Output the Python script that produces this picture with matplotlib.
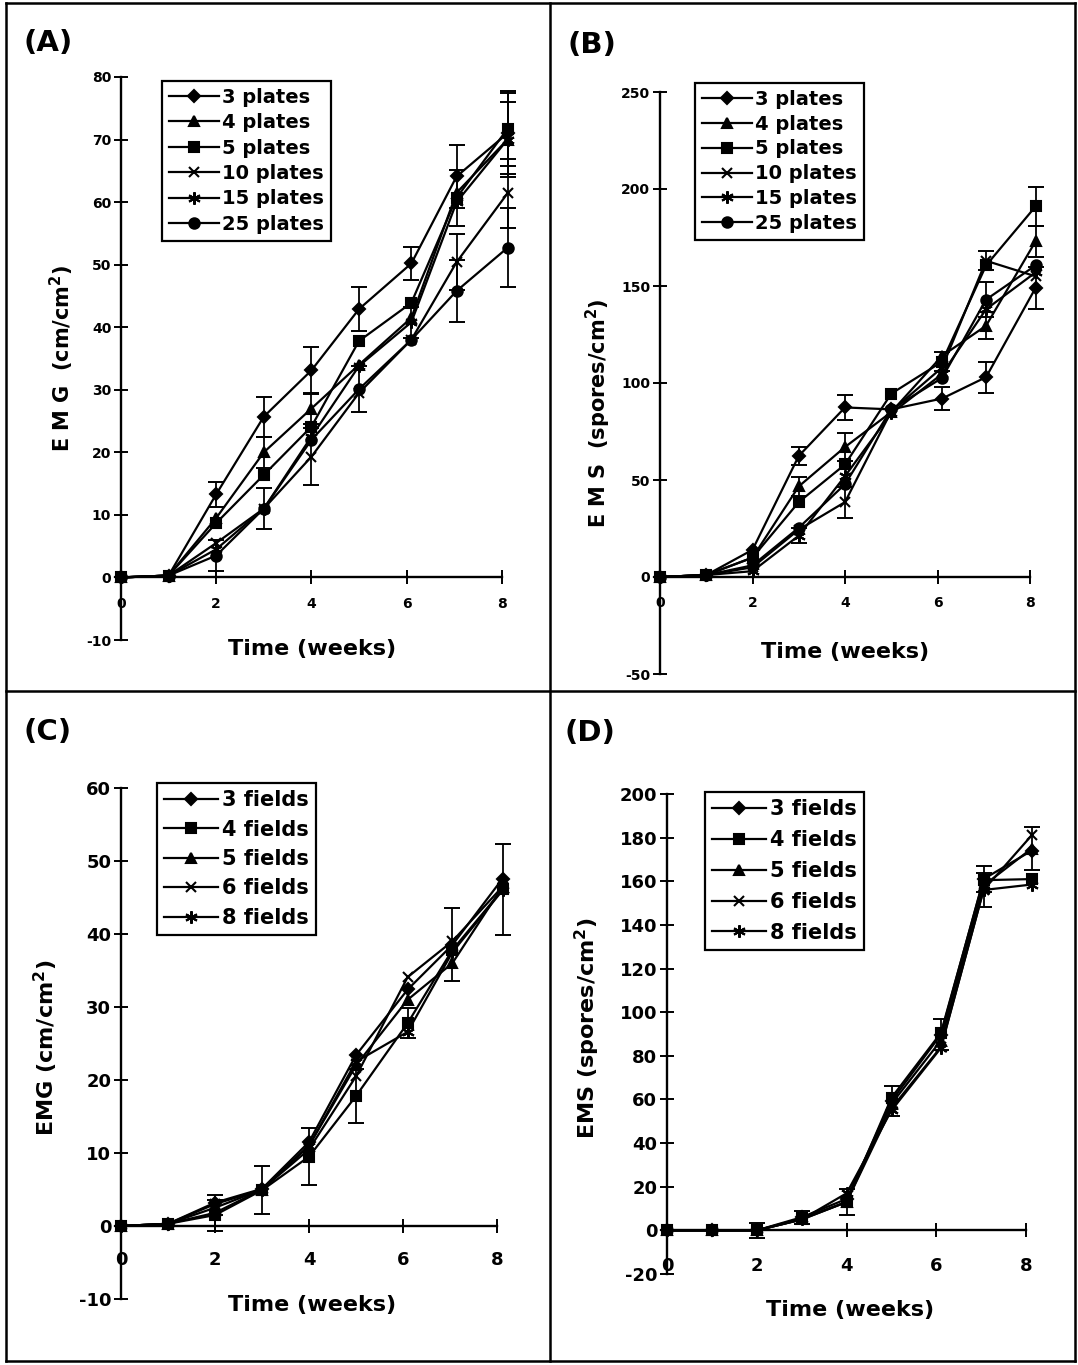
import numpy as np
import matplotlib
matplotlib.use("Agg")
import matplotlib.pyplot as plt
from matplotlib.lines import Line2D

plt.rcParams["font.family"] = ["DejaVu Sans"]
plt.rcParams["font.weight"] = "bold"
plt.rcParams["axes.unicode_minus"] = False

# sampling times (weeks)
weeks = [0, 1, 2, 3, 4, 5, 6.1, 7.05, 8.12]

# (A) EMG vs number of plates
plate_labels = ["3 plates", "4 plates", "5 plates", "10 plates", "15 plates", "25 plates"]
a_3 = [0, 0.3, 13.3, 25.7, 33.1, 42.9, 50.2, 64.1, 71.0]
a_4 = [0, 0.3, 9.5, 20.0, 27.0, 34.0, 41.5, 61.5, 70.0]
a_5 = [0, 0.3, 8.7, 16.4, 24.1, 37.8, 43.9, 60.7, 71.7]
a_10 = [0, 0.3, 5.5, 11.0, 19.3, 29.5, 38.0, 50.4, 61.4]
a_15 = [0, 0.3, 4.5, 11.0, 22.5, 33.8, 40.8, 60.0, 70.0]
a_25 = [0, 0.3, 3.5, 11.0, 22.0, 30.1, 38.0, 45.8, 52.7]
a_3_err = [0, 0, 2.0, 3.2, 3.7, 3.5, 2.6, 5.0, 6.5]
a_4_err = [0, 0, 0, 2.5, 2.5, 0, 0, 0, 6.0]
a_5_err = [0, 0, 0, 0, 0, 0, 0, 4.5, 6.0]
a_10_err = [0, 0, 0, 0, 4.6, 0, 0, 4.5, 5.5]
a_15_err = [0, 0, 0, 0, 0, 0, 2.5, 0, 0]
a_25_err = [0, 0, 2.5, 3.3, 0, 3.7, 0, 5.0, 6.3]

# (B) EMS vs number of plates
b_3 = [0, 1, 14, 62.4, 87.4, 86.4, 92, 103, 149]
b_4 = [0, 1, 10, 46.7, 67, 85, 114, 129.5, 173]
b_5 = [0, 1, 10, 38.6, 58, 94.5, 111, 160.6, 191]
b_10 = [0, 1, 5, 24.4, 38.6, 85.4, 108, 163, 155]
b_15 = [0, 1, 3, 21.3, 52, 84.3, 104.7, 138, 157]
b_25 = [0, 1, 6, 25.4, 47.8, 86.4, 102.6, 143, 160.6]
b_3_err = [0, 0, 0, 4.5, 6.5, 0, 6, 8, 11]
b_4_err = [0, 0, 0, 5, 7, 0, 0, 7, 8]
b_5_err = [0, 0, 0, 0, 0, 0, 5, 0, 10]
b_10_err = [0, 0, 0, 0, 8, 0, 0, 5, 0]
b_15_err = [0, 0, 0, 4, 0, 0, 0, 0, 0]
b_25_err = [0, 0, 0, 0, 0, 0, 0, 9, 0]

# (C) EMG vs number of fields
field_labels = ["3 fields", "4 fields", "5 fields", "6 fields", "8 fields"]
c_3 = [0, 0.3, 3.2, 5.1, 11.5, 23.4, 32.4, 38.5, 47.6]
c_4 = [0, 0.3, 1.5, 4.9, 9.5, 17.8, 27.8, 37.8, 46.1]
c_5 = [0, 0.3, 2.5, 5.0, 11.0, 22.0, 31.0, 36.0, 46.5]
c_6 = [0, 0.3, 3.0, 5.0, 10.5, 20.5, 34.1, 39.0, 46.5]
c_8 = [0, 0.3, 1.8, 5.0, 11.0, 22.5, 26.6, 37.5, 46.0]
c_3_err = [0, 0, 0, 0, 0, 0, 0, 5.0, 0]
c_4_err = [0, 0, 0, 3.3, 3.9, 3.7, 2.0, 0, 6.2]
c_5_err = [0, 0, 1.0, 0, 0, 0, 0, 0, 0]
c_6_err = [0, 0, 0, 0, 0, 0, 0, 0, 0]
c_8_err = [0, 0, 2.5, 0, 0, 0, 0, 0, 0]

# (D) EMS vs number of fields
d_3 = [0, 0, 0, 6, 14.4, 59.3, 89.7, 161, 174]
d_4 = [0, 0, 0, 5.5, 13, 60.8, 90.5, 160.5, 161]
d_5 = [0, 0, 0, 5, 13, 58, 87, 158, 175]
d_6 = [0, 0, 0, 5, 13, 56, 84, 156, 181]
d_8 = [0, 0, 0, 5, 17, 55, 83.6, 156, 158.5]
d_3_err = [0, 0, 0, 3, 0, 7, 7, 6, 0]
d_4_err = [0, 0, 3.5, 0, 6, 0, 0, 0, 0]
d_5_err = [0, 0, 0, 0, 0, 0, 0, 0, 10]
d_6_err = [0, 0, 0, 0, 0, 0, 0, 0, 0]
d_8_err = [0, 0, 0, 0, 0, 0, 0, 8, 0]

ASTER = (6, 2, 0)
plate_markers = ["D", "^", "s", "x", ASTER, "o"]
field_markers = ["D", "s", "^", "x", ASTER]
msize = {"D": 6.5, "^": 7.5, "s": 7.5, "x": 7.5, ASTER: 9, "o": 7.5}

W, H = 1078, 1365


def box(x0, y_top, x1, y_bot):
    return [x0 / W, 1 - y_bot / H, (x1 - x0) / W, (y_bot - y_top) / H]


def fx(x):
    return x / W


def fy(y):
    return 1 - y / H


def panel(ax, values, errors, labels, markers, ylim, yticks, fs, xpad):
    t = np.array(weeks)
    for vals, err, lab, mk in zip(values, errors, labels, markers):
        vals = np.array(vals, float)
        err = np.array(err, float)
        ax.plot(t, vals, color="k", lw=1.6, marker=mk, ms=msize[mk],
                mfc="k", mec="k", mew=1.5, label=lab, clip_on=False, zorder=3)
        idx = err > 0
        if idx.any():
            ax.errorbar(t[idx], vals[idx], yerr=err[idx], fmt="none", ecolor="k",
                        elinewidth=1.3, capsize=5.5, capthick=1.4, clip_on=False, zorder=3)
    ax.set_xlim(0, 8.4)
    ax.set_ylim(*ylim)
    ax.set_xticks([0, 2, 4, 6, 8])
    ax.set_yticks(yticks)
    ax.spines["top"].set_visible(False)
    ax.spines["right"].set_visible(False)
    ax.spines["bottom"].set_position(("data", 0))
    ax.spines["bottom"].set_bounds(0, 8)
    for s in ("left", "bottom"):
        ax.spines[s].set_linewidth(1.7)
    ax.tick_params(direction="inout", length=10, width=1.4, labelsize=fs)
    ax.tick_params(axis="x", pad=xpad)
    ax.tick_params(axis="y", pad=2)
    ax.patch.set_visible(False)


def legend(ax, fig, x, y, size, spacing):
    leg = ax.legend(loc="upper left", bbox_to_anchor=(fx(x), fy(y)),
                    bbox_transform=fig.transFigure, fancybox=False, edgecolor="k",
                    framealpha=1, borderaxespad=0, prop={"size": size, "weight": "bold"},
                    handlelength=2.6, handletextpad=0.15, labelspacing=spacing,
                    borderpad=0.35)
    leg.get_frame().set_linewidth(1.6)


fig = plt.figure(figsize=(W / 100, H / 100), dpi=100)

axA = fig.add_axes(box(121, 77, 121 + 8.4 * 47.6, 640))
panel(axA, [a_3, a_4, a_5, a_10, a_15, a_25],
      [a_3_err, a_4_err, a_5_err, a_10_err, a_15_err, a_25_err],
      plate_labels, plate_markers, (-10, 80), range(-10, 81, 10), 10, 9)
legend(axA, fig, 162, 81, 14, 0.33)

axB = fig.add_axes(box(660, 92, 660 + 8.4 * 46.25, 674))
panel(axB, [b_3, b_4, b_5, b_10, b_15, b_25],
      [b_3_err, b_4_err, b_5_err, b_10_err, b_15_err, b_25_err],
      plate_labels, plate_markers, (-50, 250), range(-50, 251, 50), 10, 9)
legend(axB, fig, 695, 83, 14, 0.3)

axC = fig.add_axes(box(121, 788, 121 + 8.4 * 47.0, 1299))
panel(axC, [c_3, c_4, c_5, c_6, c_8],
      [c_3_err, c_4_err, c_5_err, c_6_err, c_8_err],
      field_labels, field_markers, (-10, 60), range(-10, 61, 10), 13, 13)
legend(axC, fig, 157, 783, 15, 0.45)

axD = fig.add_axes(box(667, 794, 667 + 8.4 * 44.9, 1274))
panel(axD, [d_3, d_4, d_5, d_6, d_8],
      [d_3_err, d_4_err, d_5_err, d_6_err, d_8_err],
      field_labels, field_markers, (-20, 200), range(-20, 201, 20), 13, 14)
legend(axD, fig, 705, 792, 15, 0.52)

# panel letters, axis titles
for txt, x, y in [("(A)", 48, 43), ("(B)", 592, 45), ("(C)", 48, 732), ("(D)", 590, 733)]:
    fig.text(fx(x), fy(y), txt, ha="center", va="center", fontsize=21, fontweight="bold")

for x, y in [(312, 649), (845, 652), (312, 1305), (850, 1310)]:
    fig.text(fx(x), fy(y), "Time (weeks)", ha="center", va="center", fontsize=16, fontweight="bold")

fig.text(fx(62), fy(358), "E M G  (cm/cm$^\\mathbf{2}$)", rotation=90, ha="center", va="center", fontsize=15)
fig.text(fx(598), fy(413), "E M S  (spores/cm$^\\mathbf{2}$)", rotation=90, ha="center", va="center", fontsize=15)
fig.text(fx(46), fy(1048), "EMG (cm/cm$^\\mathbf{2}$)", rotation=90, ha="center", va="center", fontsize=16)
fig.text(fx(587), fy(1028), "EMS (spores/cm$^\\mathbf{2}$)", rotation=90, ha="center", va="center", fontsize=16)

# frame around the four panels
lines = [
    ([6, 1075], [3, 3]), ([6, 1075], [1361, 1361]),
    ([6, 6], [3, 1361]), ([1075, 1075], [3, 1361]),
    ([550, 550], [3, 1361]), ([6, 1075], [691, 691]),
]
for xs, ys in lines:
    fig.add_artist(Line2D([fx(v) for v in xs], [fy(v) for v in ys],
                          transform=fig.transFigure, color="k", lw=1.8))

fig.savefig("out.png", dpi=100)
